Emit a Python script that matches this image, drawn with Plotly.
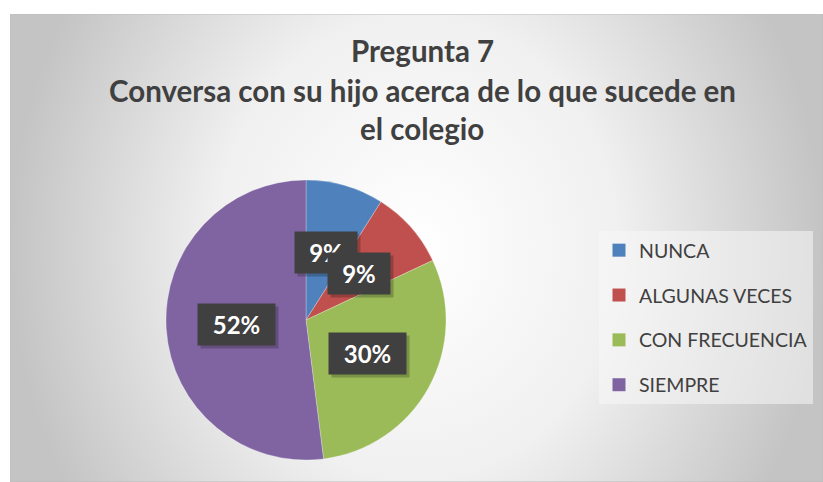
import base64
import math
import plotly.graph_objects as go

# ---- data ----
labels = ["NUNCA", "ALGUNAS VECES", "CON FRECUENCIA", "SIEMPRE"]
values = [9, 9, 30, 52]
colors = ["#4F81BD", "#C0504D", "#9BBB59", "#8064A2"]
title_lines = ["Pregunta 7", "Conversa con su hijo acerca de lo que sucede en", "el colegio"]

W, H = 823, 482
FONT = "Lato, 'Open Sans', sans-serif"

# pie geometry (pixels)
cx, cy_top, R = 306, 320, 140
cy = H - cy_top
dom_x = [(cx - R) / W, (cx + R) / W]
dom_y = [(cy - R) / H, (cy + R) / H]

fig = go.Figure()
fig.add_trace(go.Pie(
    labels=labels, values=values, sort=False, direction="clockwise", rotation=0,
    marker=dict(colors=colors, line=dict(width=0.5, color="rgba(255,255,255,0.5)")),
    textinfo="none", hoverinfo="label+percent", showlegend=False,
    domain=dict(x=dom_x, y=dom_y),
))

# legend entries
for lab, col in zip(labels, colors):
    fig.add_trace(go.Scatter(
        x=[None], y=[None], mode="markers", name=lab, legendgroup=lab,
        marker=dict(symbol="square", size=13, color=col), showlegend=True,
    ))

# background gradient (radial)
svg = (
    f'<svg xmlns="http://www.w3.org/2000/svg" width="813" height="468" viewBox="0 0 813 468" preserveAspectRatio="none">'
    '<defs><radialGradient id="g" cx="0.5" cy="0.5" r="0.5" '
    'gradientTransform="translate(0.5,0.5) scale(1,2) translate(-0.5,-0.5)">'
    '<stop offset="0" stop-color="#ffffff"/><stop offset="0.5" stop-color="#f0f0f0"/>'
    '<stop offset="1" stop-color="#c4c4c4"/></radialGradient></defs>'
    '<rect x="0" y="0" width="813" height="468" fill="url(#g)" stroke="#bdbdbd" stroke-width="1"/></svg>'
)
src = "data:image/svg+xml;base64," + base64.b64encode(svg.encode()).decode()
fig.add_layout_image(dict(
    source=src, xref="paper", yref="paper", x=10 / W, y=1 - 14 / H,
    sizex=1 - 10 / W, sizey=1 - 14 / H, xanchor="left", yanchor="top",
    sizing="stretch", layer="below",
))

# data labels at half radius along slice mid-angle
total = sum(values)
cum = 0
annos = []
for v in values:
    mid = (cum + v / 2) / total * 2 * math.pi
    cum += v
    px = cx + 0.5 * R * math.sin(mid)
    py = cy + 0.5 * R * math.cos(mid)
    txt = f"{round(v / total * 100)}%"
    bw = 15 * len(txt) + 20
    common = dict(x=px / W, y=py / H, xref="paper", yref="paper", showarrow=False,
                  xanchor="center", yanchor="middle", borderpad=6, width=bw)
    annos.append(dict(common, text=txt, xshift=3, yshift=-3, bgcolor="rgba(0,0,0,0.22)",
                      font=dict(family=FONT, size=24, color="rgba(0,0,0,0)")))
    annos.append(dict(common, text=f"<b>{txt}</b>", bgcolor="#404040",
                      font=dict(family=FONT, size=24, color="white")))

# title lines
for line, ypx in zip(title_lines, [51, 90, 129]):
    annos.append(dict(x=422 / W, y=1 - ypx / H, xref="paper", yref="paper",
                      text=f"<b>{line}</b>", showarrow=False, xanchor="center", yanchor="middle",
                      font=dict(family=FONT, size=29.5, color="#404040")))

fig.update_layout(
    width=W, height=H, margin=dict(l=0, r=0, t=0, b=0),
    paper_bgcolor="white", plot_bgcolor="rgba(0,0,0,0)",
    xaxis=dict(visible=False), yaxis=dict(visible=False),
    annotations=annos,
    legend=dict(x=599 / W, y=1 - 231 / H, xanchor="left", yanchor="top",
                font=dict(family=FONT, size=19.5, color="#404040"),
                bgcolor="rgba(248,248,248,0.55)", itemwidth=30, tracegroupgap=16.5,
                itemclick=False, itemdoubleclick=False),
    showlegend=True,
)

fig.write_html("out.html", config={"displayModeBar": False},
               post_script="document.body.style.margin='0';")
